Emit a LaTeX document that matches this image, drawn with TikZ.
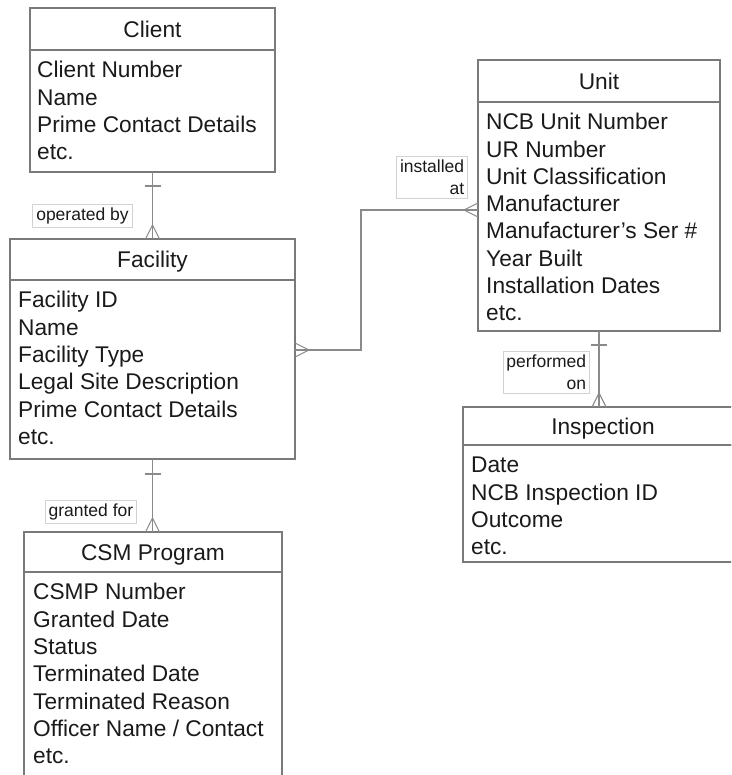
\documentclass[tikz,border=0pt]{standalone}
\usepackage{fontspec}
\setmainfont{Liberation Sans}
\usetikzlibrary{positioning, calc}
\definecolor{boxgrey}{HTML}{7A7A7A}
\definecolor{linegrey}{HTML}{8A8A8A}
\definecolor{taggrey}{HTML}{D2D2D2}
\definecolor{ink}{HTML}{1A1A1A}

\begin{document}
\begin{tikzpicture}[x=1pt, y=-1pt,
    box/.style={draw=boxgrey, line width=1.4pt, inner sep=0pt, outer sep=0pt, anchor=north west},
    head/.style={box, text=ink, text height=16.4pt, text depth=0pt,
        font=\fontsize{22.7}{27.3}\selectfont},
    attr/.style={anchor=base west, inner sep=0pt, text=ink,
        font=\fontsize{22.7}{27.3}\selectfont},
    link/.style={draw=linegrey, line width=1.1pt},
    tag/.style={draw=taggrey, line width=0.6pt, fill=white, text=ink, align=right,
        inner sep=3.5pt, font=\fontsize{17.5}{22}\selectfont}]

    \useasboundingbox (0,0) rectangle (731,775);
    \clip (0,0) rectangle (731,775);

    % ;- Client ;-
    \node[head, minimum width=245pt, minimum height=42pt] (client) at (30,8) {Client};
    \node[box, minimum width=245pt, minimum height=122pt] (clientbody) at (client.south west) {};
    \foreach \t [count=\i] in {Client Number, Name, Prime Contact Details, etc.}
        \node[attr] (client-\i) at ($(clientbody.north west)+(7,0.5+27.3*\i)$) {\t};

    % ;- Facility ;-
    \node[head, minimum width=285pt, minimum height=41pt] (facility) at (10,239) {Facility};
    \node[box, minimum width=285pt, minimum height=179pt] (facilitybody) at (facility.south west) {};
    \foreach \t [count=\i] in {Facility ID, Name, Facility Type, Legal Site Description,
                               Prime Contact Details, etc.}
        \node[attr] (facility-\i) at ($(facilitybody.north west)+(8,0.5+27.3*\i)$) {\t};

    % ;- CSM Program (runs off the bottom) ;-
    \node[head, minimum width=258pt, minimum height=40pt] (csm) at (24,532) {CSM Program};
    \node[box, minimum width=258pt, minimum height=260pt] (csmbody) at (csm.south west) {};
    \foreach \t [count=\i] in {CSMP Number, Granted Date, Status, Terminated Date,
                               Terminated Reason, {Officer Name / Contact}, etc.}
        \node[attr] (csm-\i) at ($(csmbody.north west)+(9,0.5+27.3*\i)$) {\t};

    % ;- Unit ;-
    \node[head, minimum width=242pt, minimum height=42pt] (unit) at (478,60) {Unit};
    \node[box, minimum width=242pt, minimum height=229pt] (unitbody) at (unit.south west) {};
    \foreach \t [count=\i] in {NCB Unit Number, UR Number, Unit Classification, Manufacturer,
                               Manufacturer's Ser \#, Year Built, Installation Dates, etc.}
        \node[attr] (unit-\i) at ($(unitbody.north west)+(8,0.5+27.3*\i)$) {\t};

    % ;- Inspection (runs off the right side) ;-
    \node[head, minimum width=280pt, minimum height=38pt] (inspection) at (463,407) {Inspection};
    \node[box, minimum width=280pt, minimum height=117pt] (inspectionbody) at (inspection.south west) {};
    \foreach \t [count=\i] in {Date, NCB Inspection ID, Outcome, etc.}
        \node[attr] (inspection-\i) at ($(inspectionbody.north west)+(8,0.5+27.3*\i)$) {\t};

    % ;- Client -- Facility ;-
    \draw[link] (clientbody.south) -- (facility.north);
    \draw[link] ($(clientbody.south)+(-8,14)$) -- ++(16,0);
    \draw[link] ($(facility.north)+(-7,0)$) -- ($(facility.north)+(0,-14)$) -- ($(facility.north)+(7,0)$);
    \node[tag, anchor=east] (operated) at ($(clientbody.south)+(-20,44)$) {operated by};

    % ;- Facility -- CSM Program ;-
    \draw[link] (facilitybody.south) -- (facilitybody.south |- csm.north);
    \draw[link] ($(facilitybody.south)+(-8,15)$) -- ++(16,0);
    \coordinate (csm-top) at (facilitybody.south |- csm.north);
    \draw[link] ($(csm-top)+(-7,0)$) -- ($(csm-top)+(0,-14)$) -- ($(csm-top)+(7,0)$);
    \node[tag, anchor=east] (granted) at ($(facilitybody.south)+(-15.5,52.5)$) {granted for};

    % ;- Unit -- Inspection ;-
    \coordinate (insp-top) at (unitbody.south |- inspection.north);
    \draw[link] (unitbody.south) -- (insp-top);
    \draw[link] ($(unitbody.south)+(-8,14)$) -- ++(16,0);
    \draw[link] ($(insp-top)+(-7,0)$) -- ($(insp-top)+(0,-14)$) -- ($(insp-top)+(7,0)$);
    \node[tag, anchor=east] (performed) at ($(unitbody.south)+(-9,41.5)$) {performed\\on};

    % ;- Facility -- Unit ;-
    \coordinate (fac-out) at ($(facilitybody.north east)+(0,70)$);
    \coordinate (unit-in) at ($(unitbody.north west)+(0,108)$);
    \draw[link] (fac-out) -- ++(66,0) |- (unit-in);
    \draw[link] ($(fac-out)+(0,-7)$) -- ($(fac-out)+(14,0)$) -- ($(fac-out)+(0,7)$);
    \draw[link] ($(unit-in)+(0,-7)$) -- ($(unit-in)+(-14,0)$) -- ($(unit-in)+(0,7)$);
    \node[tag, anchor=east] (installed) at ($(unitbody.north west)+(-10,75.5)$) {installed\\at};

\end{tikzpicture}
\end{document}
